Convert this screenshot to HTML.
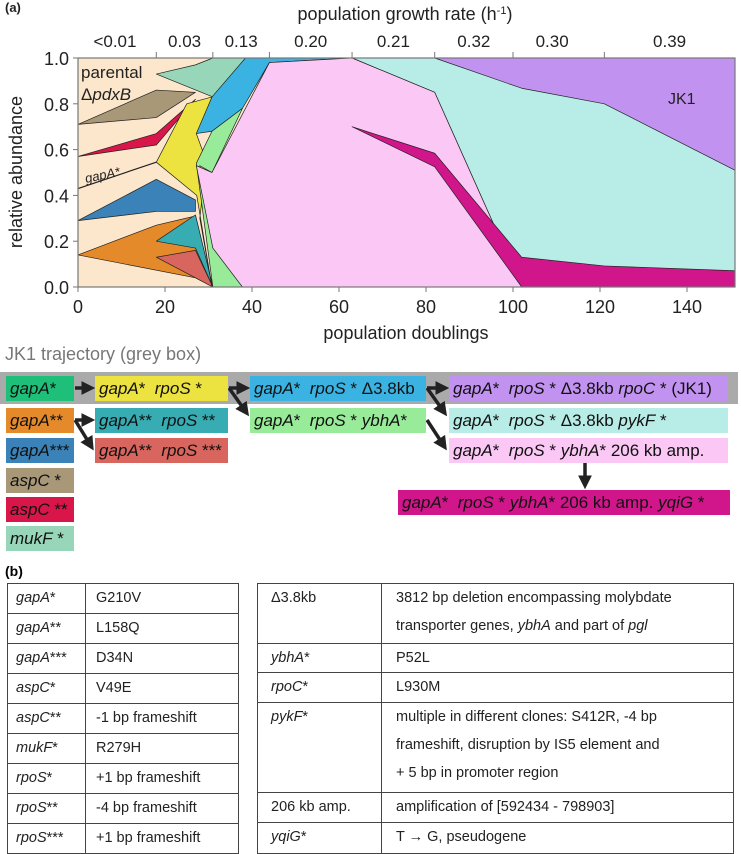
<!DOCTYPE html>
<html><head><meta charset="utf-8"><style>
body{margin:0;background:#fff;font-family:"Liberation Sans",sans-serif;}
#root{position:relative;width:741px;height:854px;overflow:hidden;}
.bx{position:absolute;height:25px;line-height:25px;font-size:17px;padding-left:4px;box-sizing:border-box;white-space:nowrap;color:#111;}
.bx i{font-style:italic}
.cell{position:absolute;font-size:14.5px;color:#222;padding-left:9px;box-sizing:border-box;}
.hl{position:absolute;height:1px;background:#444;}
.vl{position:absolute;width:1px;background:#444;}
</style></head><body><div id="root">
<svg id="chart" width="741" height="345" style="position:absolute;left:0;top:0" font-family="Liberation Sans, sans-serif"></svg>

<div style="position:absolute;left:5px;top:344px;font-size:18px;color:#777">JK1 trajectory (grey box)</div>
<div style="position:absolute;left:0;top:372px;width:738px;height:32px;background:#aaa"></div>
<svg width="741" height="560" style="position:absolute;left:0;top:0">
<defs><marker id="ah" markerWidth="4" markerHeight="4" refX="2.5" refY="2" orient="auto"><path d="M0,0 L4,2 L0,4z" fill="#222"/></marker></defs>
<g stroke="#222" stroke-width="3.5" fill="none" marker-end="url(#ah)">
<line x1="75" y1="388" x2="90" y2="388"/>
<line x1="229" y1="388" x2="245" y2="388"/>
<polyline points="229,388 246,412"/>
<line x1="427" y1="388" x2="444" y2="388"/>
<polyline points="427,388 444,412"/>
<line x1="75" y1="420" x2="90" y2="420"/>
<polyline points="75,420 91,446"/>
<polyline points="427,420 444,446"/>
<line x1="585" y1="463" x2="585" y2="484"/>
</g></svg>
<div class="bx" style="left:6px;top:376px;width:68px;background:#1ec079"><i>gapA</i>*</div>
<div class="bx" style="left:95px;top:376px;width:133px;background:#ece240"><i>gapA</i>* &nbsp;<i>rpoS</i> *</div>
<div class="bx" style="left:250px;top:376px;width:176px;background:#3ab3e3"><i>gapA</i>* &nbsp;<i>rpoS</i> * Δ3.8kb</div>
<div class="bx" style="left:449px;top:376px;width:279px;background:#c292f0"><i>gapA</i>* &nbsp;<i>rpoS</i> * Δ3.8kb <i>rpoC</i> * (JK1)</div>
<div class="bx" style="left:6px;top:408px;width:68px;background:#e58a2a"><i>gapA</i>**</div>
<div class="bx" style="left:95px;top:408px;width:133px;background:#37acb2"><i>gapA</i>** &nbsp;<i>rpoS</i> **</div>
<div class="bx" style="left:250px;top:408px;width:176px;background:#98eb98"><i>gapA</i>* &nbsp;<i>rpoS</i> * <i>ybhA</i>*</div>
<div class="bx" style="left:449px;top:408px;width:279px;background:#b8ece6"><i>gapA</i>* &nbsp;<i>rpoS</i> * Δ3.8kb <i>pykF</i> *</div>
<div class="bx" style="left:6px;top:438px;width:68px;background:#3a82b8"><i>gapA</i>***</div>
<div class="bx" style="left:95px;top:438px;width:133px;background:#d9655f"><i>gapA</i>** &nbsp;<i>rpoS</i> ***</div>
<div class="bx" style="left:449px;top:438px;width:279px;background:#fbc8f5"><i>gapA</i>* &nbsp;<i>rpoS</i> * <i>ybhA</i>* 206 kb amp.</div>
<div class="bx" style="left:6px;top:468px;width:68px;background:#a89878"><i>aspC</i> *</div>
<div class="bx" style="left:398px;top:490px;width:332px;background:#d0168a"><i>gapA</i>* &nbsp;<i>rpoS</i> * <i>ybhA</i>* 206 kb amp. <i>yqiG</i> *</div>
<div class="bx" style="left:6px;top:497px;width:68px;background:#d8164a"><i>aspC</i> **</div>
<div class="bx" style="left:6px;top:526px;width:68px;background:#97d6b9"><i>mukF</i> *</div>

<div style="position:absolute;left:5px;top:563px;font-size:14px;font-weight:bold">(b)</div>
<div id="tables"></div>
</div>
<script>
// ---- chart data ----
const xTicks=[0,20,40,60,80,100,120,140];
const yTicks=[0,0.2,0.4,0.6,0.8,1.0];
const rateBounds=[18,31,44,63,82,100,121];
const rateLabels=["<0.01","0.03","0.13","0.20","0.21","0.32","0.30","0.39"];
const rateLabelPos=[8.5,24.5,37.5,53.5,72.5,91,109,136];
const polyNames=["mukF","aspC1","aspC2","gapA3","gapA2","gapA2rpoS2","gapA2rpoS3","yellow","blue","green","cyan","pink","magenta","purple"];
const polyColors=["#97d6b9","#a89878","#d8164a","#3a82b8","#e58a2a","#37acb2","#d9655f","#ece240","#3ab3e3","#98eb98","#b8ece6","#fbc8f5","#d0168a","#c292f0"];
const polyX=[
[18,27,31,39,31],
[0,18,27,18],
[0,18,27,18],
[0,18,27,27,18],
[0,18,27,31,27],
[18,27,31,27],
[18,27,31,27],
[18,25,30.8,30.8,27.2,29.5,28,30.8,27.3],
[27.2,30.8,38.5,63,44,37.8,30.8],
[27.2,30.8,37.8,30.8,28,31,38,31],
[63,82,151,151,102,82],
[27.2,30.8,44,63,82,102,37.8,31],
[63,82,102,121,151,151,102,82],
[82,151,151,121,102]];
const polyY=[
[0.93,0.97,1,1,0.83],
[0.71,0.86,0.85,0.74],
[0.57,0.67,0.82,0.62],
[0.29,0.47,0.38,0.33,0.33],
[0.14,0.27,0.31,0,0.04],
[0.20,0.315,0,0.17],
[0.13,0.16,0,0.04],
[0.545,0.80,0.83,0.69,0.67,0.55,0.30,0,0.40],
[0.67,0.83,1,1,0.98,0.78,0.68],
[0.54,0.68,0.78,0.50,0.53,0.17,0,0],
[1,1,1,0,0,0.85],
[0.53,0.50,0.98,1,0.85,0,0,0.17],
[0.70,0.584,0.13,0.092,0.071,0,0,0.525],
[1,1,0.51,0.80,0.868]];
const gapLineX=[0,18], gapLineY=[0.43,0.545];

const L=78,R=735,T=58,B=287;
const sx=d=>L+d*(687-78)/140;
const sy=a=>B-a*(B-T);
const svg=document.getElementById('chart');
const NS='http://www.w3.org/2000/svg';
function mk(tag,attrs){const e=document.createElementNS(NS,tag);for(const k in attrs)e.setAttribute(k,attrs[k]);svg.appendChild(e);return e;}
let bg=mk('rect',{x:L,y:T,width:R-L,height:B-T,fill:'#fde7cc'});


polyNames.forEach((n,i)=>{
  const pts=polyX[i].map((x,j)=>sx(x)+','+sy(polyY[i][j])).join(' ');
  const p=mk('polygon',{points:pts,fill:polyColors[i],stroke:'#222','stroke-width':0.7,'stroke-linejoin':'round'});
  
  
});
const gl=mk('line',{x1:sx(gapLineX[0]),y1:sy(gapLineY[0]),x2:sx(gapLineX[1]),y2:sy(gapLineY[1]),stroke:'#222','stroke-width':1.2});


mk('rect',{x:L,y:T,width:R-L,height:B-T,fill:'none',stroke:'#777','stroke-width':1.2});
xTicks.forEach(v=>{
  mk('line',{x1:sx(v),x2:sx(v),y1:B,y2:B+5,stroke:'#777'});
  const t=mk('text',{x:sx(v),y:B+26,'font-size':18,'text-anchor':'middle',fill:'#222'});t.textContent=v;
  
  
});
yTicks.forEach(v=>{
  mk('line',{x1:L-5,x2:L,y1:sy(v),y2:sy(v),stroke:'#777'});
  const t=mk('text',{x:L-9,y:sy(v)+7,'font-size':18,'text-anchor':'end',fill:'#222'});t.textContent=v.toFixed(1);
  
  
});
rateBounds.forEach(v=>mk('line',{x1:sx(v),x2:sx(v),y1:T-6,y2:T,stroke:'#777'}));
rateLabels.forEach((s,i)=>{
  const t=mk('text',{x:sx(rateLabelPos[i]),y:47,'font-size':17,'text-anchor':'middle',fill:'#222'});t.textContent=s;
  
  
});
function txt(x,y,s,attrs,name){const t=mk('text',Object.assign({x:x,y:y,fill:'#222'},attrs));t.innerHTML=s;return t;}
txt(5,12,'(a)',{'font-size':13,'font-weight':'bold'},'panel-a-label');
txt(405,20,'population growth rate (h<tspan font-size="11" dy="-6">-1</tspan><tspan dy="6">)</tspan>',{'font-size':18,'text-anchor':'middle'},'top-axis-title');
txt(406,339,'population doublings',{'font-size':18,'text-anchor':'middle'},'x-axis-title');
txt(22,172,'relative abundance',{'font-size':18,'text-anchor':'middle',transform:'rotate(-90 22 172)'},'y-axis-title');
txt(81,78,'parental',{'font-size':17},'label-parental');
txt(81,100,'Δ<tspan font-style="italic">pdxB</tspan>',{'font-size':17},'label-pdxB');
txt(86,183,'gapA*',{'font-size':13,'font-style':'italic',transform:'rotate(-12 86 183)'},'label-gapA');
txt(668,104,'JK1',{'font-size':16},'label-jk1');

// ---- tables ----
const leftGenes=["gapA*","gapA**","gapA***","aspC*","aspC**","mukF*","rpoS*","rpoS**","rpoS***"];
const leftDesc=["G210V","L158Q","D34N","V49E","-1 bp frameshift","R279H","+1 bp frameshift","-4 bp frameshift","+1 bp frameshift"];
const rightGenes=["Δ3.8kb","<i>ybhA</i>*","<i>rpoC</i>*","<i>pykF</i>*","206 kb amp.","<i>yqiG</i>*"];
const rightDesc=["3812 bp deletion encompassing molybdate<br>transporter genes, <i>ybhA</i> and part of <i>pgl</i>","P52L","L930M","multiple in different clones: S412R, -4 bp<br>frameshift, disruption by IS5 element and<br>+ 5 bp in promoter region","amplification of [592434 - 798903]","T → G, pseudogene"];
const rightRows=[583,643,672,702,792,822,853];
const tb=document.getElementById('tables');
let h='';
h+='<div class="vl" style="left:7px;top:583px;height:270px"></div><div class="vl" style="left:85px;top:583px;height:270px"></div><div class="vl" style="left:238px;top:583px;height:270px"></div>';
for(let i=0;i<=9;i++)h+='<div class="hl" style="left:7px;width:232px;top:'+(583+i*30)+'px"></div>';
leftGenes.forEach((g,i)=>{
  const m=g.match(/^([a-zA-Z]+)(\**)$/);
  h+='<div class="cell" style="left:7px;top:'+(583+i*30)+'px;line-height:30px"><i>'+m[1]+'</i>'+m[2]+'</div>';
  h+='<div class="cell" style="left:85px;top:'+(583+i*30)+'px;line-height:30px;padding-left:11px">'+leftDesc[i]+'</div>';
});
h+='<div class="vl" style="left:257px;top:583px;height:270px"></div><div class="vl" style="left:381px;top:583px;height:270px"></div><div class="vl" style="left:733px;top:583px;height:270px"></div>';
rightRows.forEach(y=>h+='<div class="hl" style="left:257px;width:477px;top:'+y+'px"></div>');
rightGenes.forEach((g,i)=>{
  h+='<div class="cell" style="left:262px;top:'+(rightRows[i]+1)+'px;line-height:28px">'+g+'</div>';
  h+='<div class="cell" style="left:381px;top:'+(rightRows[i]+1)+'px;line-height:28px;padding-left:15px">'+rightDesc[i]+'</div>';
});
tb.innerHTML=h;
</script>
</body></html>
